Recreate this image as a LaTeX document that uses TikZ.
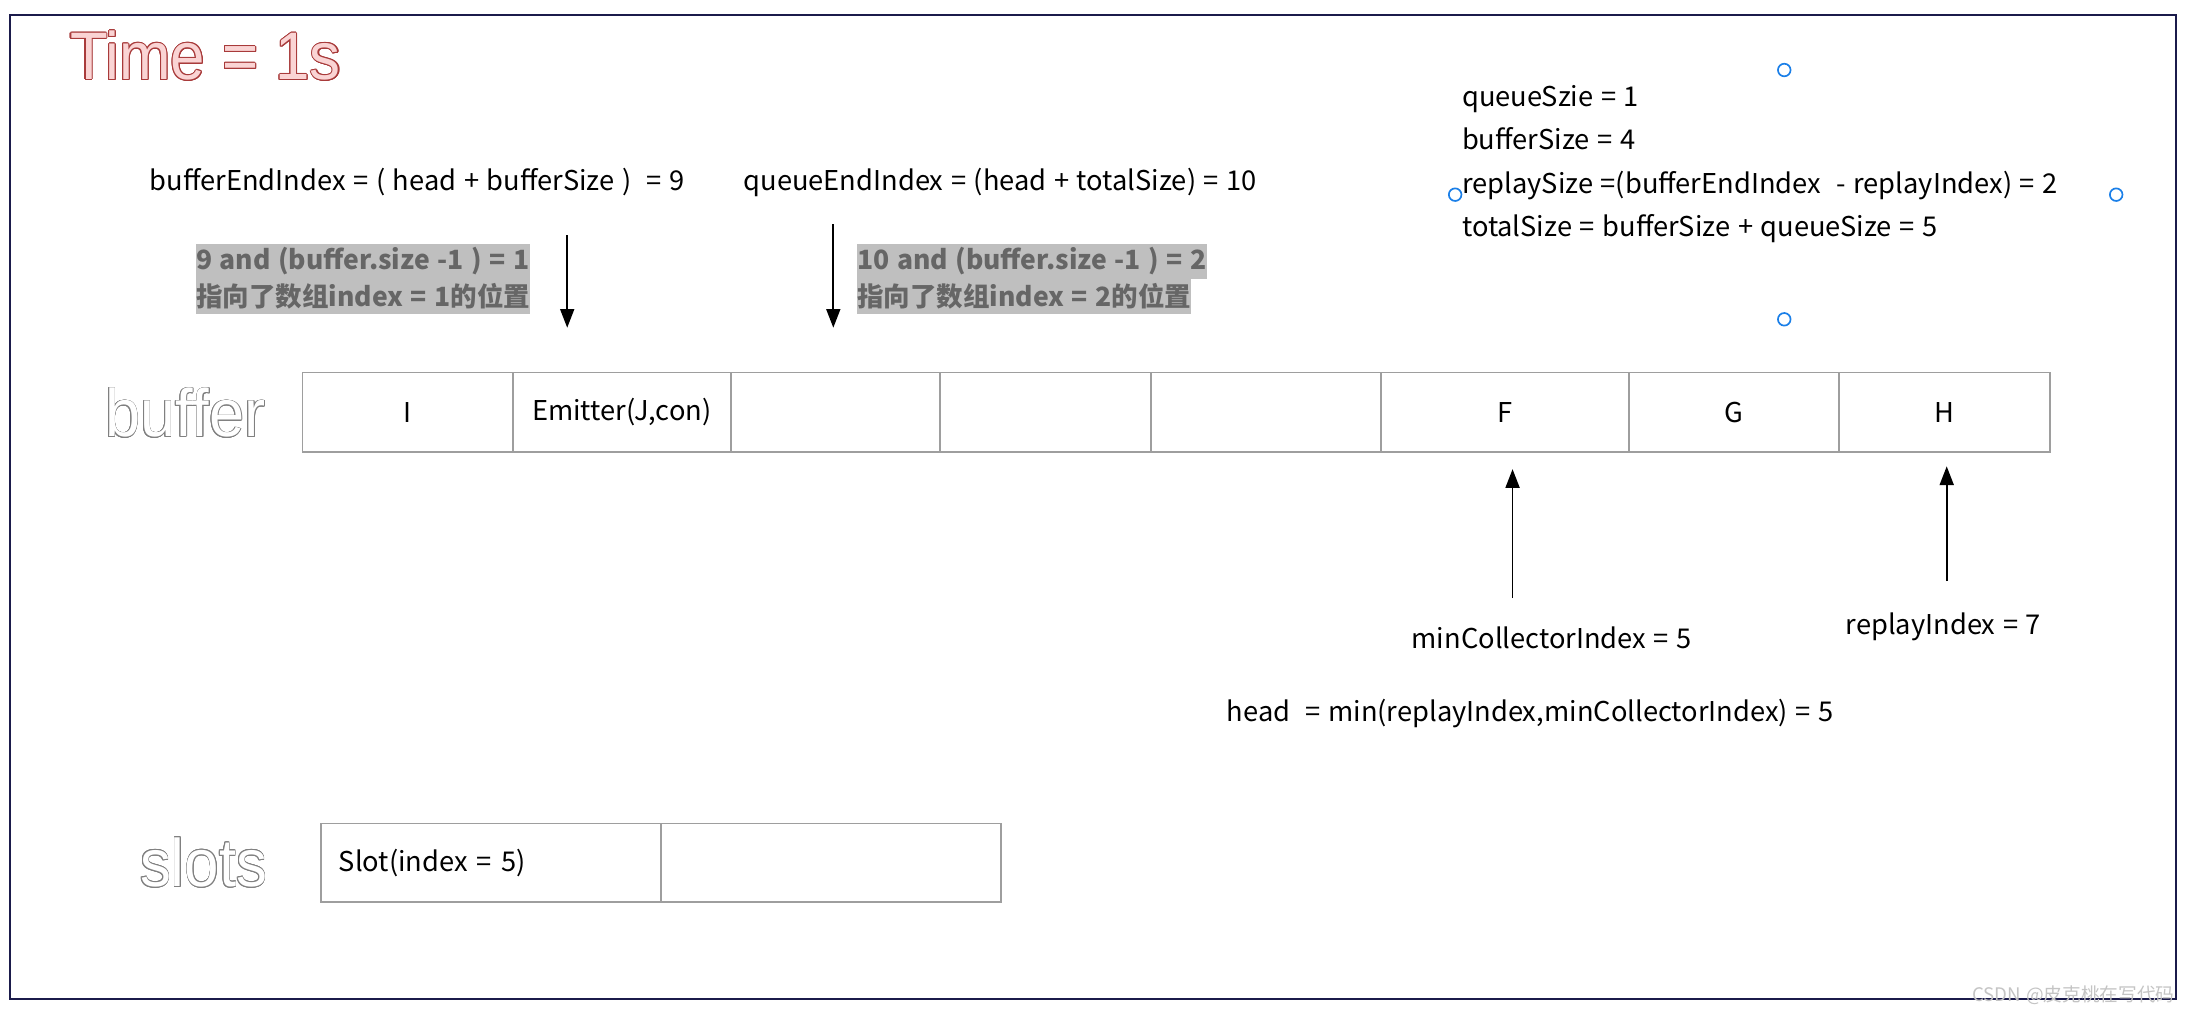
\documentclass[tikz,border=0pt]{standalone}
\usepackage{fontspec}
\usepackage{contour}
\usetikzlibrary{arrows.meta}
\setmainfont[WordSpace=1.25]{Noto Sans CJK SC}
\newfontfamily\arialf{Liberation Sans}
\definecolor{frameblue}{HTML}{1B1B4B}
\definecolor{cellgray}{HTML}{9E9E9E}
\definecolor{hlbg}{HTML}{BFBFBF}
\definecolor{hltext}{HTML}{666666}
\definecolor{timefill}{HTML}{FAD4D4}
\definecolor{timeline}{HTML}{A83A3A}
\definecolor{handleblue}{HTML}{1A7FE8}
\definecolor{wmgray}{HTML}{C4C4C4}
\newcommand\dgbody{\fontsize{14.6pt}{17pt}\selectfont}
\newcommand\dghl{\fontsize{14.2pt}{17pt}\selectfont}
\newcommand\dgbig{\arialf\fontsize{36pt}{40pt}\selectfont}
\tikzset{
  txt/.style={inner sep=0pt, outer sep=0pt, font=\dgbody, anchor=base west},
  cell/.style={draw=cellgray, line width=1pt, rectangle, inner sep=0pt, outer sep=0pt,
               minimum height={57*0.75pt}, font=\dgbody},
  hl/.style={fill=hlbg, text=hltext, inner xsep=0pt, inner ysep=0pt, outer sep=0pt,
             minimum height={25*0.75pt}, font=\dghl\bfseries, anchor=west},
  arr/.style={-{Triangle[length=10pt,width=7.5pt]}, line width=0.9pt, black},
  handle/.style={circle, draw=handleblue, fill=white, line width=0.9pt, inner sep=0pt,
                 minimum size={9*0.75pt}},
  bigtxt/.style={inner sep=0pt, outer sep=0pt, font=\dgbig, anchor=base west},
}
\begin{document}
\begin{tikzpicture}[x=0.75pt,y=-0.75pt]
\useasboundingbox (0,0) rectangle (1568,723);
\fill[white] (0,0) rectangle (1568,723);
\draw[frameblue, line width=1.1pt] (7,11) rectangle (1554,713);

% title and side labels
\node[bigtxt] (title) at (50,57) {\scalebox{0.92}[1]{\contourlength{0.6pt}\contour{timeline}{\textcolor{timefill}{Time = 1s}}}};
\node[bigtxt] (lbuf) at (75,312) {\scalebox{0.94}[1]{\contourlength{0.4pt}\contour{gray}{\textcolor{white}{buffer}}}};
\node[bigtxt] (lslots) at (100,633) {\scalebox{0.92}[1]{\contourlength{0.4pt}\contour{gray}{\textcolor{white}{slots}}}};

% formulas
\node[txt] (bufend) at (107,136) {bufferEndIndex = ( head + bufferSize )\ \ = 9};
\node[txt] (queend) at (531,136) {queueEndIndex = (head + totalSize) = 10};
\node[txt] (qs) at (1044,76) {queueSzie = 1};
\node[txt] (bs) at (1044,107) {bufferSize = 4};
\node[txt] (rs) at (1044,138) {replaySize =(bufferEndIndex\ \ - replayIndex) = 2};
\node[txt] (ts) at (1044,169) {totalSize = bufferSize + queueSize = 5};

% selection handles
\node[handle] (h1) at (1274,50) {};
\node[handle] (h2) at (1039,139) {};
\node[handle] (h3) at (1511,139) {};
\node[handle] (h4) at (1274,228) {};

% highlighted notes
\node[hl] (n1a) at (140,186.5) {9 and (buffer.size -1 ) = 1};
\node[hl] (n1b) at (140,211.5) {指向了数组index = 1的位置};
\node[hl] (n2a) at (612,186.5) {10 and (buffer.size -1 ) = 2};
\node[hl] (n2b) at (612,211.5) {指向了数组index = 2的位置};

% buffer cells
\node[cell, minimum width={150*0.75pt}] (b0) at (291,294.5) {I};
\node[cell, minimum width={156*0.75pt}] (b1) at (444,294.5) {Emitter(J,con)};
\node[cell, minimum width={149*0.75pt}] (b2) at (596.5,294.5) {};
\node[cell, minimum width={151*0.75pt}] (b3) at (746.5,294.5) {};
\node[cell, minimum width={164*0.75pt}] (b4) at (904,294.5) {};
\node[cell, minimum width={177*0.75pt}] (b5) at (1074.5,294.5) {F};
\node[cell, minimum width={150*0.75pt}] (b6) at (1238,294.5) {G};
\node[cell, minimum width={151*0.75pt}] (b7) at (1388.5,294.5) {H};

% slots cells
\node[cell, minimum height={56*0.75pt}, minimum width={243*0.75pt}, text width={217*0.75pt},
      inner xsep={13*0.75pt}, align=left] (s0) at (350.5,616) {Slot(index = 5)};
\node[cell, minimum height={56*0.75pt}, minimum width={243*0.75pt}] (s1) at (593.5,616) {};

% arrows
\coordinate (a1s) at (405,168);
\coordinate (a1e) at (405,234);
\coordinate (a2s) at (595,160);
\coordinate (a2e) at (595,234);
\coordinate (a3s) at (1080,427);
\coordinate (a3e) at (1080,335);
\coordinate (a4s) at (1390,415);
\coordinate (a4e) at (1390,333);
\draw[arr] (a1s) -- (a1e);
\draw[arr] (a2s) -- (a2e);
\draw[arr] (a3s) -- (a3e);
\draw[arr] (a4s) -- (a4e);

% bottom labels
\node[txt] (mci) at (1008,463) {minCollectorIndex = 5};
\node[txt] (rpi) at (1318,453) {replayIndex = 7};
\node[txt] (head) at (876,515) {head\ \ = min(replayIndex,minCollectorIndex) = 5};

% watermark
\node[inner sep=0pt, anchor=base east, font=\fontsize{10pt}{12pt}\selectfont, text=wmgray] (wm) at (1553,715) {CSDN @皮克桃在写代码};
\end{tikzpicture}
\end{document}
